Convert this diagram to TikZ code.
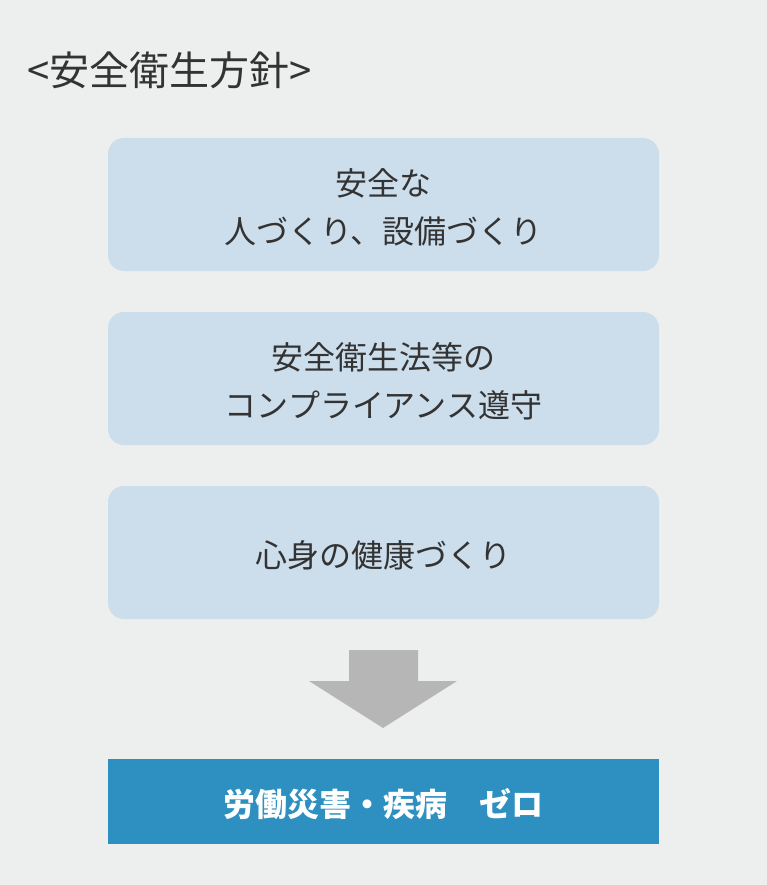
\documentclass[tikz,border=0pt]{standalone}
\usepackage{fontspec}
\setmainfont{Noto Sans CJK JP}
\newfontfamily\jp{Noto Sans CJK JP}
\definecolor{bgc}{HTML}{EDEFEE}
\definecolor{boxc}{HTML}{CCDDEC}
\definecolor{arrowc}{HTML}{B5B6B5}
\definecolor{bluec}{HTML}{2E90C0}
\definecolor{txtc}{HTML}{333333}
\begin{document}
\begin{tikzpicture}[x=1pt,y=-1pt,
  policybox/.style={fill=boxc, rounded corners=16pt},
  boxtext/.style={text=txtc, align=center, font=\jp\fontsize{32}{48}\selectfont},
  goalbox/.style={fill=bluec}]
\useasboundingbox[fill=bgc] (0,0) rectangle (767,885);
\node[anchor=west, text=txtc, font=\jp\fontsize{40}{44}\selectfont, inner sep=0] (title) at (27,70) {<安全衛生方針>};
\path[policybox] (108,138) rectangle (659,271);
\path[policybox] (108,312) rectangle (659,445);
\path[policybox] (108,486) rectangle (659,619);
\node[boxtext] (b1) at (383.5,207) {安全な\\人づくり、設備づくり};
\node[boxtext] (b2) at (383.5,381) {安全衛生法等の\\コンプライアンス遵守};
\node[boxtext] (b3) at (383.5,555) {心身の健康づくり};
\path[fill=arrowc] (349,650) -- (418,650) -- (418,681) -- (457,681) -- (383,728) -- (309,681) -- (349,681) -- cycle;
\path[goalbox] (108,759) rectangle (659,844);
\node[text=white, font=\jp\bfseries\fontsize{32}{36}\selectfont] (goal) at (383.5,804) {労働災害・疾病　ゼロ};
\end{tikzpicture}
\end{document}
